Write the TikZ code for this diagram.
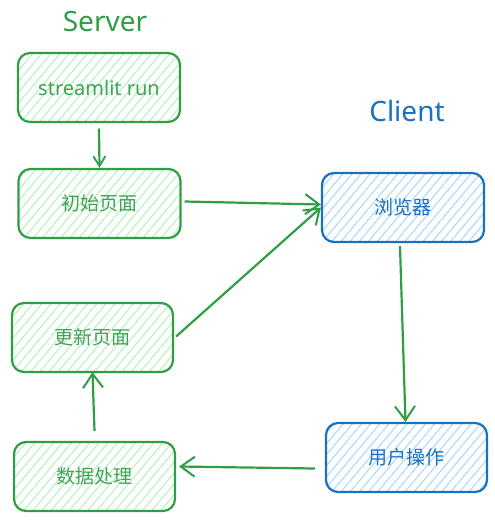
\documentclass[tikz,border=0pt]{standalone}
\usepackage{fontspec}
\setmainfont{Noto Sans}
\newfontfamily\cjk{Noto Sans CJK SC}
\usetikzlibrary{arrows.meta,patterns.meta,calc}
\definecolor{gstroke}{HTML}{2F9E44}
\definecolor{gfill}{HTML}{B2F2BB}
\definecolor{gtext}{HTML}{40A355}
\definecolor{bstroke}{HTML}{1971C2}
\definecolor{bfill}{HTML}{A5D8FF}
\begin{document}
\begin{tikzpicture}[x=1pt,y=-1pt,
  box/.style={draw, line width=2.2pt, rounded corners=12pt, minimum width=162pt, minimum height=69pt, inner sep=0pt, font=\cjk\fontsize{19}{23}\selectfont},
  gbox/.style={box, draw=gstroke, pattern={Lines[angle=50,distance=7pt,line width=1pt]}, pattern color=gfill, text=gtext},
  bbox/.style={box, draw=bstroke, pattern={Lines[angle=50,distance=7pt,line width=1pt]}, pattern color=bfill, text=bstroke},
  conn/.style={draw=gstroke, line width=2.2pt, -{Straight Barb[length=14pt,width=20pt,line width=2pt]}},
  title/.style={inner sep=0pt, font=\fontsize{28}{32}\selectfont}
]
\useasboundingbox (0,0) rectangle (495,528);
\fill[white] (0,0) rectangle (495,528);

\node[title, text=gstroke] (server) at (105,22) {Server};
\node[title, text=bstroke] (client) at (407,111) {Client};

\node[gbox, font=\fontsize{20}{24}\selectfont] (run) at (99,87.5) {streamlit run};
\node[gbox] (init) at (99.5,203.5) {初始页面};
\node[bbox] (browser) at (403,207.5) {浏览器};
\node[gbox, minimum width=161pt] (update) at (92.5,337.5) {更新页面};
\node[gbox, minimum width=161pt] (data) at (94.5,476.5) {数据处理};
\node[bbox, minimum width=161pt] (user) at (406.5,457.5) {用户操作};

\draw[conn, -{Straight Barb[length=10pt,width=12pt,line width=1.8pt]}] ($(run.south)+(0,6)$) -- (init.north);
\draw[conn] ($(init.east)+(3,-2)$) -- ($(browser.west)+(0,-3)$);
\draw[conn] ($(update.east)+(2,-1)$) -- ($(browser.west)+(0,0)$);
\draw[conn] ($(browser.south)+(-3,3)$) -- ($(user.north)+(-1,0)$);
\draw[conn] ($(user.west)+(-10,11)$) -- ($(data.east)+(3,-10)$);
\draw[conn] ($(data.north)+(0,-10)$) -- ($(update.south)+(0,-1)$);
\end{tikzpicture}
\end{document}
